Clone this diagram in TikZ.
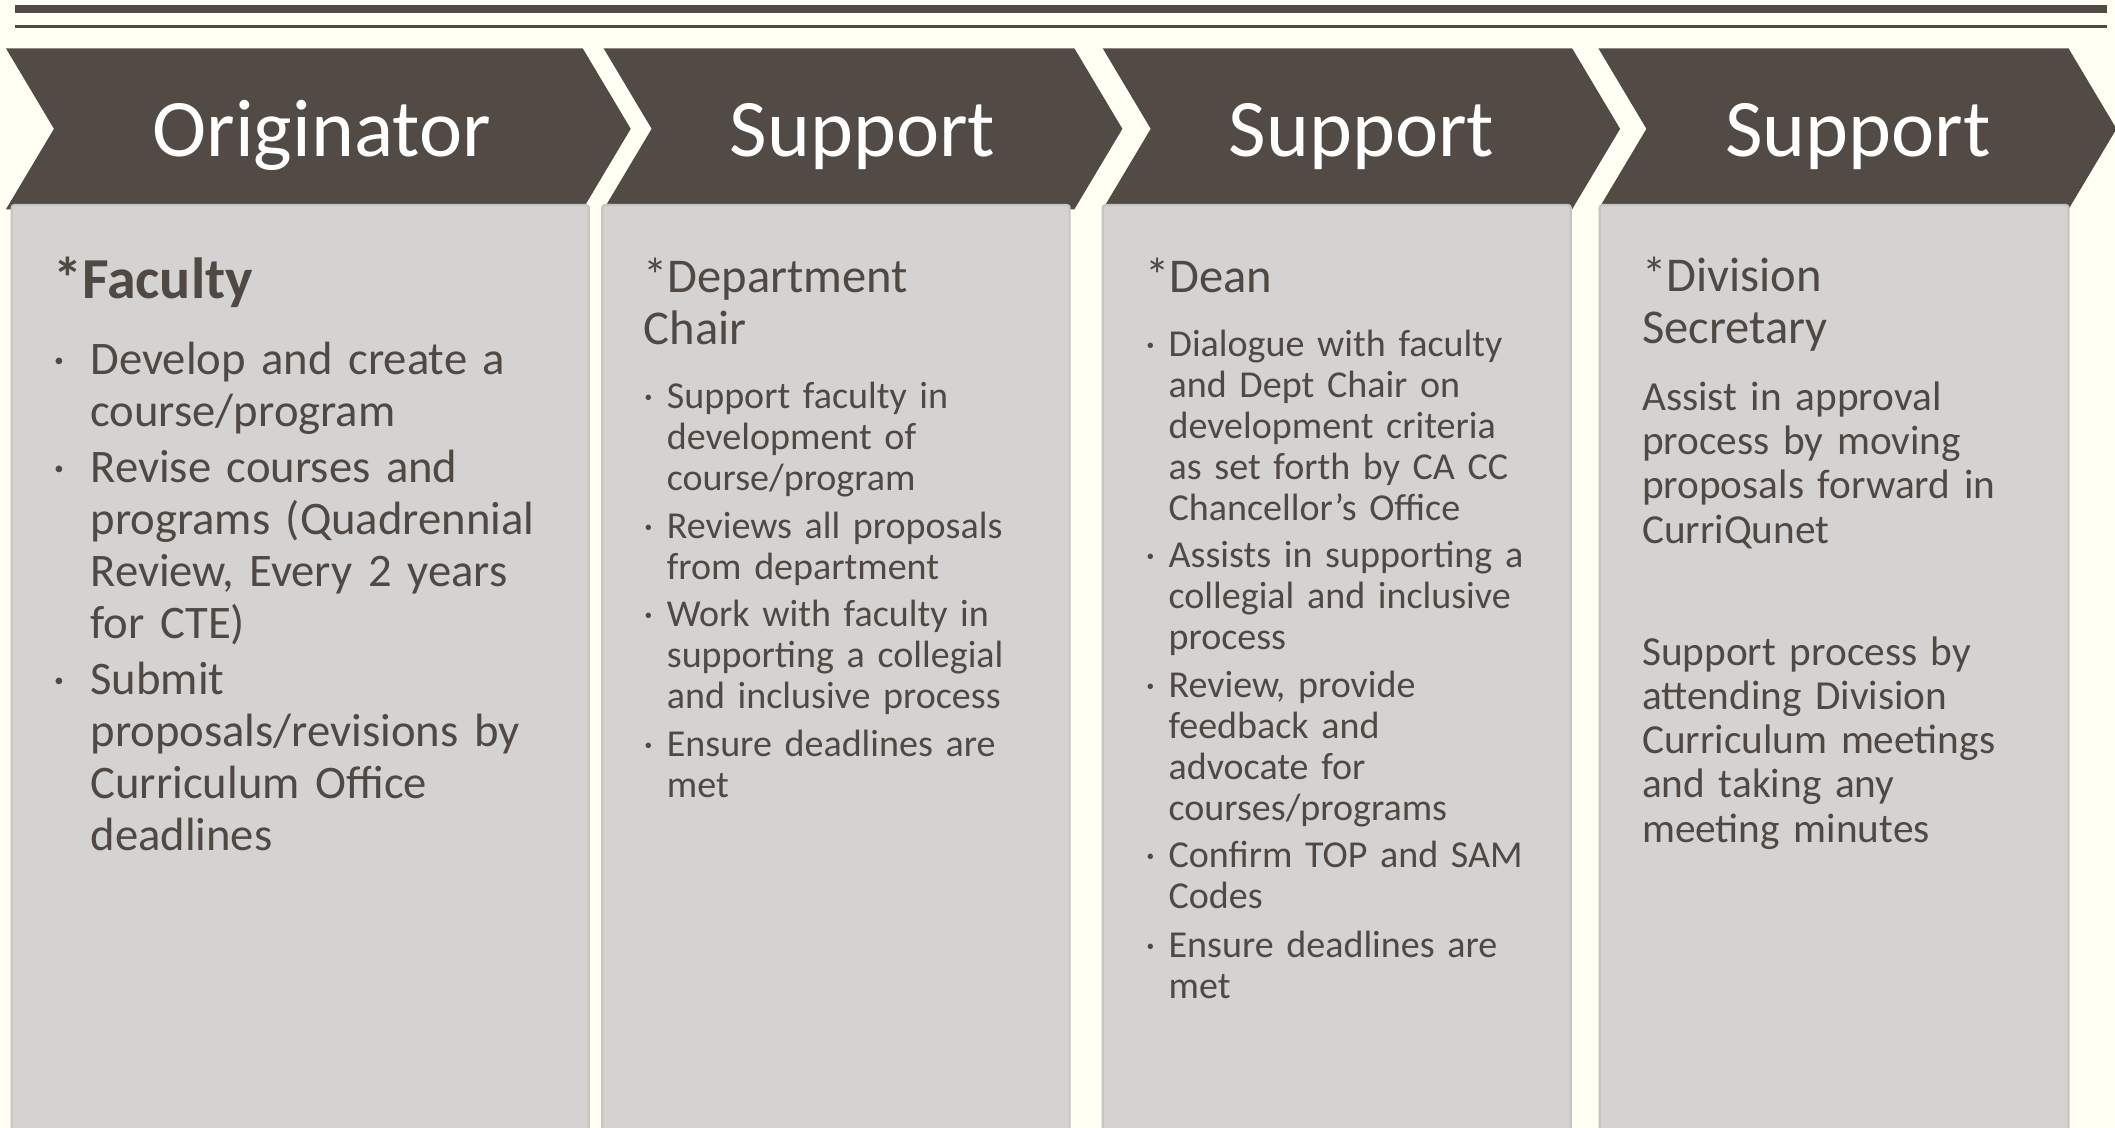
\documentclass[tikz,border=0pt]{standalone}
\usepackage{fontspec}
\setmainfont{Carlito}
\definecolor{bgc}{HTML}{FFFFF3}
\definecolor{brn}{HTML}{524A45}
\definecolor{boxf}{HTML}{D4D3D2}
\definecolor{boxd}{HTML}{C6C5C4}
\definecolor{txt}{HTML}{4F4843}
\newcommand\bulA{\llap{\makebox[23pt]{·}}}
\newcommand\bulB{\llap{\makebox[13.6pt]{·}}}
\begin{document}
\begin{tikzpicture}[x=0.5pt,y=-0.5pt,
  chev/.style={fill=brn},
  panel/.style={fill=boxf,draw=boxd,line width=0.8pt,rounded corners=1pt},
  hdr/.style={text=white,font=\fontsize{30.3}{36}\selectfont,anchor=base,inner sep=0pt},
  para/.style={text=txt,anchor=base west,inner sep=0pt,align=left,text width=260pt},
  ttl/.style={para,font=\fontsize{18}{19.2}\selectfont},
  itA/.style={para,font=\fontsize{17.3}{19.2}\selectfont},
  itB/.style={para,font=\fontsize{14.1}{15.2}\selectfont},
  itC/.style={para,font=\fontsize{15.3}{16.35}\selectfont}]
\useasboundingbox (0,0) rectangle (1568,836);
\fill[bgc] (0,0) rectangle (1568,836);
% top rules
\fill[brn] (11,3.7) rectangle (1562,9.9);
\fill[brn] (11,18.6) rectangle (1562,20.4);
% chevrons
\foreach \L/\R in {4.4/432, 447.5/796.5, 817.5/1165.5, 1185/1533.5}{
  \fill[chev] (\L,35.8) -- (\R,35.8) -- (\R+35.6,95.5) -- (\R,155.2) -- (\L,155.2) -- (\L+35.6,95.5) -- cycle;
}
% panels
\foreach \L/\R in {8.6/436.5, 446.5/793, 817.5/1164.5, 1186/1533.5}{
  \filldraw[panel] (\L,152) rectangle (\R,845);
}
% headers
\node[hdr] (h1) at (238.5,116) {Originator};
\node[hdr] (h2) at (639.5,116) {Support};
\node[hdr] (h3) at (1009.5,116) {Support};
\node[hdr] (h4) at (1377.5,116) {Support};
% box 1
\node[para,font=\bfseries\fontsize{21.5}{24}\selectfont] (t1) at (39,221.5) {*Faculty};
\node[itA] (a1) at (66.7,277.5) {\bulA Develop and create a\\course/program};
\node[itA] (a2) at (66.7,358) {\bulA Revise courses and\\programs (Quadrennial\\Review, Every 2 years\\for CTE)};
\node[itA] (a3) at (66.7,515) {\bulA Submit\\proposals/revisions by\\Curriculum Office\\deadlines};
% box 2
\node[ttl] (t2) at (476.8,217) {*Department\\Chair};
\node[itB] (b1) at (494,302.5) {\bulB Support faculty in\\development of\\course/program};
\node[itB] (b2) at (494,399.5) {\bulB Reviews all proposals\\from department};
\node[itB] (b3) at (494,464.5) {\bulB Work with faculty in\\supporting a collegial\\and inclusive process};
\node[itB] (b4) at (494,560.5) {\bulB Ensure deadlines are\\met};
% box 3
\node[ttl] (t3) at (848.8,217) {*Dean};
\node[itB] (c1) at (866,264) {\bulB Dialogue with faculty\\and Dept Chair on\\development criteria\\as set forth by CA CC\\Chancellor’s Office};
\node[itB] (c2) at (866,421) {\bulB Assists in supporting a\\collegial and inclusive\\process};
\node[itB] (c3) at (866,517) {\bulB Review, provide\\feedback and\\advocate for\\courses/programs};
\node[itB] (c4) at (866,643) {\bulB Confirm TOP and SAM\\Codes};
\node[itB] (c5) at (866,710) {\bulB Ensure deadlines are\\met};
% box 4
\node[ttl] (t4) at (1217,216) {*Division\\Secretary};
\node[itC] (d1) at (1217,304.5) {Assist in approval\\process by moving\\proposals forward in\\CurriQunet};
\node[itC] (d2) at (1217,493.5) {Support process by\\attending Division\\Curriculum meetings\\and taking any\\meeting minutes};
\end{tikzpicture}
\end{document}
